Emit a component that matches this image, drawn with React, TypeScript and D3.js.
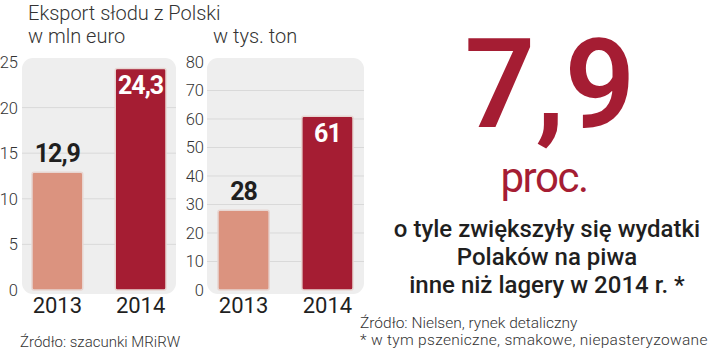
import * as d3 from "d3";

const years = ["2013", "2014"];
const eurValues = [12.9, 24.3];
const tonValues = [28, 61];
const eurTicks = [0, 5, 10, 15, 20, 25];
const tonTicks = [0, 10, 20, 30, 40, 50, 60, 70, 80];
const eurLabels = ["12,9", "24,3"];
const tonLabels = ["28", "61"];
const barColors = ["#db937f", "#a51d33"];

const RED = "#a51d33";
const DARK = "#1f1f1f";
const LIGHT_FONT = "Roboto, 'Noto Sans', sans-serif";

interface PanelProps {
  values: number[];
  labels: string[];
  ticks: number[];
  max: number;
  axisX: number;
  panelX: number;
  panelW: number;
  barX: number[];
}

function Panel({ values, labels, ticks, max, axisX, panelX, panelW, barX }: PanelProps) {
  const y = d3.scaleLinear().domain([0, max]).range([290, 62]);
  const x = d3.scaleBand<string>().domain(years).range([barX[0], barX[1]]).paddingInner(0.39);
  return (
    <g>
      <rect x={panelX} y={58} width={panelW} height={236} rx={11} fill="#eeeeee" />
      {ticks.slice(1, -1).map((t) => (
        <line key={t} x1={panelX} x2={panelX + panelW} y1={y(t)} y2={y(t)} stroke="#d9d9d9" strokeWidth={1} />
      ))}
      {ticks.map((t) => (
        <text key={t} x={axisX} y={y(t)} dy="0.36em" textAnchor="end" fontFamily={LIGHT_FONT} fontWeight={300} fontSize={16.5} fill="#333">
          {t}
        </text>
      ))}
      {values.map((v, i) => {
        const bx = x(years[i])!;
        const bw = x.bandwidth();
        const top = y(v);
        const inside = i === 1;
        return (
          <g key={years[i]}>
            <rect x={bx} y={top} width={bw} height={y(0) - top} rx={2} fill={barColors[i]} stroke="#e8d6d2" strokeWidth={1.5} />
            <text
              x={bx + bw / 2}
              y={inside ? top + 26 : top - 10}
              textAnchor="middle"
              fontFamily={LIGHT_FONT}
              fontWeight={700}
              fontSize={25}
              letterSpacing={-1}
              fill={inside ? "#ffffff" : DARK}
            >
              {labels[i]}
            </text>
            <text x={bx + bw / 2} y={313} textAnchor="middle" fontFamily={LIGHT_FONT} fontWeight={400} fontSize={22} fill={DARK}>
              {years[i]}
            </text>
          </g>
        );
      })}
    </g>
  );
}

export default function App() {
  return (
    <svg width={720} height={352} style={{ position: "absolute", left: 0, top: 0 }}>
      <rect width={720} height={352} fill="#ffffff" />
      <text x={28} y={20} fontFamily={LIGHT_FONT} fontWeight={300} fontSize={20} fill="#333">
        Eksport słodu z Polski
      </text>
      <text x={28} y={43} fontFamily={LIGHT_FONT} fontWeight={300} fontSize={20} fill="#333">
        w mln euro
      </text>
      <text x={213} y={43} fontFamily={LIGHT_FONT} fontWeight={300} fontSize={20} fill="#333">
        w tys. ton
      </text>

      <Panel values={eurValues} labels={eurLabels} ticks={eurTicks} max={25} axisX={18} panelX={22} panelW={154} barX={[32, 166]} />
      <Panel values={tonValues} labels={tonLabels} ticks={tonTicks} max={80} axisX={204} panelX={207} panelW={157} barX={[218, 353]} />

      <text x={20} y={347} fontFamily={LIGHT_FONT} fontWeight={300} fontSize={15} fill="#333">
        Źródło: szacunki MRiRW
      </text>

      <text x={550} y={127} textAnchor="middle" fontFamily={LIGHT_FONT} fontWeight={600} fontSize={124} fill={RED}>
        7,9
      </text>
      <text x={544} y={192} textAnchor="middle" fontFamily={LIGHT_FONT} fontWeight={400} fontSize={42} fill={RED} letterSpacing={-1.5}>
        proc.
      </text>

      {["o tyle zwiększyły się wydatki", "Polaków na piwa", "inne niż lagery w 2014 r. *"].map((s, i) => (
        <text key={s} x={547} y={237 + i * 28} textAnchor="middle" fontFamily={LIGHT_FONT} fontWeight={500} fontSize={24} fill={DARK}>
          {s}
        </text>
      ))}

      <text x={360} y={328} fontFamily={LIGHT_FONT} fontWeight={300} fontSize={15.5} fill="#333">
        Źródło: Nielsen, rynek detaliczny
      </text>
      <text x={360} y={345} fontFamily={LIGHT_FONT} fontWeight={300} fontSize={15.5} letterSpacing={0.3} fill="#333">
        * w tym pszeniczne, smakowe, niepasteryzowane
      </text>
    </svg>
  );
}
